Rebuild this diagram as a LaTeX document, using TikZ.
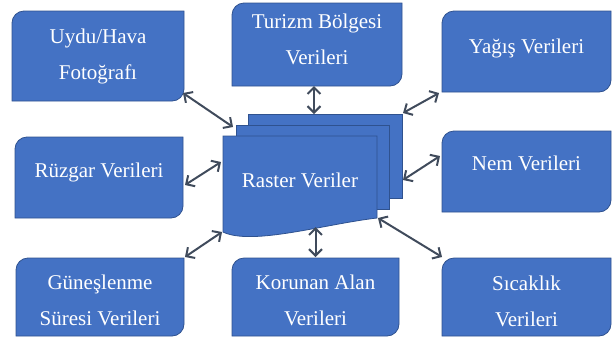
\documentclass[tikz,border=0pt]{standalone}
\usepackage{fontspec}
\setmainfont{Liberation Serif}
\usetikzlibrary{arrows.meta}
\definecolor{boxfill}{HTML}{4472C4}
\definecolor{boxline}{HTML}{2F528F}
\definecolor{arrcol}{HTML}{404B5C}
\tikzset{
  boxnode/.style={rectangle, inner sep=0pt, outer sep=0pt},
  boxshape/.style={fill=boxfill, draw=boxline, line width=0.8pt},
  txt/.style={text=white, align=center, inner sep=0pt, font=\fontsize{21}{36}\selectfont},
  arr/.style={draw=arrcol, line width=2pt, {Straight Barb[length=6.5pt,width=13pt]}-{Straight Barb[length=6.5pt,width=13pt]}},
}
\newcommand\dbox[7]{%
  \node[boxnode, minimum width={(#4-#2)*1pt}, minimum height={(#5-#3)*1pt}] (#1) at ({(#2+#4)/2},{(#3+#5)/2}) {};
  \filldraw[boxshape] (#1.south west) -- ([yshift=-12pt]#1.north west) arc[start angle=180,end angle=90,radius=12pt] -- (#1.north east) -- ([yshift=12pt]#1.south east) arc[start angle=0,end angle=-90,radius=12pt] -- cycle;
  \node[txt] (#1-t) at ([yshift=#7]#1.center) {#6};
}
\begin{document}
\begin{tikzpicture}[x=1pt,y=-1pt]
\useasboundingbox (0,0) rectangle (613,338);
% outer boxes
\dbox{uydu}{12}{11}{184}{101}{Uydu/Hava\\Fotoğrafı}{0pt}
\dbox{turizm}{232}{3}{402}{86}{Turizm Bölgesi\\Verileri}{5pt}
\dbox{yagis}{442}{11}{611}{92}{Yağış Verileri}{3pt}
\dbox{ruzgar}{15}{137}{183}{218}{Rüzgar Verileri}{5pt}
\dbox{nem}{442}{131}{611}{212}{Nem Verileri}{8pt}
\dbox{gunes}{16}{258}{184}{336}{Güneşlenme\\Süresi Verileri}{-3pt}
\dbox{korunan}{232}{258}{399}{336}{Korunan Alan\\Verileri}{-3pt}
\dbox{sicak}{442}{258}{611}{336}{Sıcaklık\\Verileri}{-4pt}
% raster multi-document
\node[boxnode, boxshape, minimum width=154pt, minimum height=84pt] (back) at (325,156) {};
\node[boxnode, boxshape, minimum width=153pt, minimum height=84pt] (mid) at (312.5,167) {};
\node[boxnode, minimum width=154pt, minimum height=96pt] (raster) at (300,184) {};
\filldraw[boxshape] (223,136) -- (377,136) -- (377,218) .. controls (325,224) and (252,246) .. (223,232) -- cycle;
\node[txt] (raster-t) at (300,180) {Raster Veriler};
% connectors
\draw[arr] ([shift={(-1pt,8pt)}]uydu.south east) -- ([shift={(-3pt,-2pt)}]mid.north west);
\draw[arr] ([xshift=-3pt]turizm.south) -- ([xshift=-3pt]turizm.south |- back.north);
\draw[arr] ([shift={(-3pt,-1pt)}]yagis.south west) -- ([shift={(1pt,1pt)}]back.north east);
\draw[arr] ([shift={(-2pt,-25pt)}]nem.north west) -- ([shift={(1pt,-24pt)}]back.east);
\draw[arr] ([shift={(2pt,-7.5pt)}]ruzgar.east) -- ([shift={(-2pt,22pt)}]raster.west);
\draw[arr] ([shift={(1pt,1pt)}]gunes.north east) -- ([shift={(-1pt,0pt)}]raster.south west);
\draw[arr] ([yshift=1pt]korunan.north) -- ([yshift=5pt]korunan.north |- raster.south);
\draw[arr] ([shift={(1pt,14pt)}]raster.south east) -- ([shift={(0pt,1pt)}]sicak.north west);
\end{tikzpicture}
\end{document}
